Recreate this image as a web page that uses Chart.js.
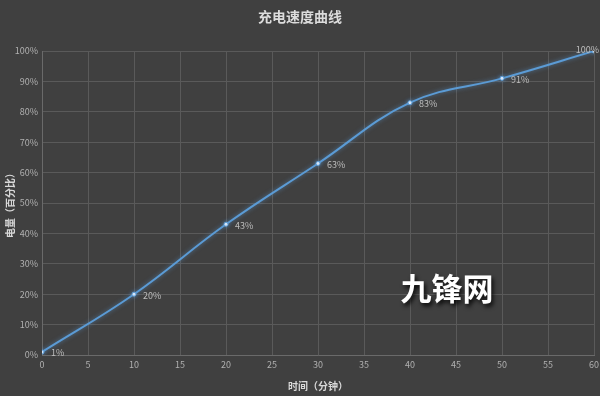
<!DOCTYPE html>
<html>
<head>
<meta charset="utf-8">
<script src="https://cdn.jsdelivr.net/npm/chart.js@4"></script>
<style>
  html, body { margin: 0; padding: 0; background: #404040; }
  #wrap { width: 600px; height: 396px; position: relative; }
</style>
</head>
<body>
<div id="wrap"><canvas id="chargeChart"></canvas></div>
<script>
// charge time in minutes and battery level
const minutes = [0, 10, 20, 30, 40, 50, 60];
const level = [1, 20, 43, 63, 83, 91, 100];
const pointLabels = ['1%', '20%', '43%', '63%', '83%', '91%', '100%'];

const titleText = '充电速度曲线';
const xTitle = '时间（分钟）';
const yTitle = '电量（百分比）';
const watermark = '九锋网';

const FONT = '"Noto Sans CJK SC", "Noto Sans", sans-serif';
Chart.defaults.font.family = FONT;

// title, point labels, watermark
const overlay = {
    id: 'overlay',
    beforeDatasetDraw(chart) {
        const ctx = chart.ctx;
        ctx.save();
        ctx.shadowColor = 'rgba(91, 155, 213, 0.6)';
        ctx.shadowBlur = 4;
    },
    afterDatasetDraw(chart) {
        chart.ctx.restore();
    },
    afterDraw(chart) {
        const ctx = chart.ctx;
        ctx.save();
        ctx.fillStyle = '#dcdcdc';
        ctx.font = 'bold 14px ' + FONT;
        ctx.textAlign = 'center';
        ctx.textBaseline = 'middle';
        ctx.fillText(titleText, 300, 17);

        ctx.font = '9px ' + FONT;
        ctx.fillStyle = '#bdbdbd';
        ctx.textAlign = 'left';
        const meta = chart.getDatasetMeta(0);
        meta.data.forEach((pt, i) => {
            const w = ctx.measureText(pointLabels[i]).width;
            let x = pt.x + 9;
            let y = pt.y + 1;
            if (x + w > chart.width - 1) { x = chart.width - w - 1; y = pt.y - 1; }
            ctx.fillText(pointLabels[i], x, y);
        });

        ctx.font = 'bold 31px ' + FONT;
        ctx.textAlign = 'center';
        ctx.shadowColor = 'rgba(0,0,0,0.85)';
        ctx.shadowBlur = 4;
        ctx.shadowOffsetX = 2;
        ctx.shadowOffsetY = 3;
        ctx.fillStyle = '#ffffff';
        ctx.fillText(watermark, 447, 288);
        ctx.restore();
    }
};

new Chart(document.getElementById('chargeChart'), {
    type: 'line',
    data: {
        datasets: [{
            data: minutes.map((m, i) => ({ x: m, y: level[i] })),
            borderColor: '#5b9bd5',
            borderWidth: 2,
            tension: 0.4,
            pointRadius: 2,
            pointBackgroundColor: '#e8f2ff',
            pointBorderColor: '#5b9bd5',
            pointBorderWidth: 1,
            fill: false
        }]
    },
    options: {
        responsive: true,
        maintainAspectRatio: false,
        animation: false,
        layout: { padding: { top: 51, right: 6, left: 0, bottom: 0 } },
        plugins: { legend: { display: false }, tooltip: { enabled: false } },
        scales: {
            x: {
                type: 'linear',
                min: 0,
                max: 60,
                ticks: { stepSize: 5, color: '#b0b0b0', font: { size: 9 }, padding: 4 },
                grid: { color: '#5a5a5a', lineWidth: 1, drawTicks: false },
                border: { color: '#6a6a6a' },
                title: { display: true, text: xTitle, color: '#d8d8d8', font: { size: 10, weight: 'bold' }, padding: { top: 0, bottom: 4 } },
                afterFit(scale) { scale.height = 41; scale.paddingRight = 0; }
            },
            y: {
                min: 0,
                max: 100,
                ticks: { stepSize: 10, color: '#b0b0b0', font: { size: 9 }, padding: 4, callback: v => v + '%' },
                grid: { color: '#5a5a5a', lineWidth: 1, drawTicks: false },
                border: { color: '#6a6a6a' },
                title: { display: true, text: yTitle, color: '#d8d8d8', font: { size: 10, weight: 'bold' }, padding: { top: 4, bottom: 0 } },
                afterFit(scale) { scale.width = 42; }
            }
        }
    },
    plugins: [overlay]
});
</script>
</body>
</html>
